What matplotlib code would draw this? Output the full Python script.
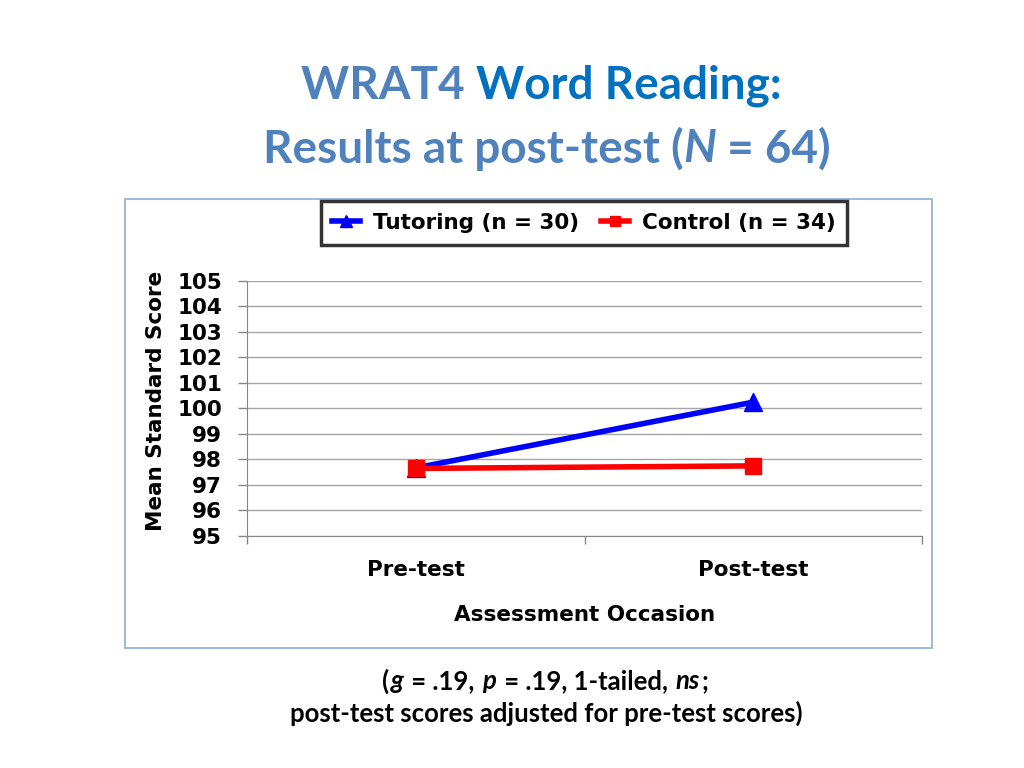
import matplotlib.pyplot as plt
from matplotlib.patches import Rectangle
from matplotlib.lines import Line2D

# data
occasions = ["Pre-test", "Post-test"]
tutoring = [97.67, 100.25]
control = [97.65, 97.75]
yticks = list(range(95, 106))

steel = "#4F81BD"
dark = "#0070C0"

fig = plt.figure(figsize=(10.24, 7.68), dpi=100)

# outer chart frame
fig.patches.append(Rectangle((125 / 1024, 1 - 648 / 768), 807 / 1024, 449 / 768,
                             transform=fig.transFigure, fill=False,
                             edgecolor="#95B3D7", linewidth=1.3))

ax = fig.add_axes([247 / 1024, 1 - 536 / 768, 675 / 1024, 255 / 768])
x = list(range(len(occasions)))
ax.plot(x, tutoring, color="#0000FF", linewidth=4, marker="^", markersize=13,
        zorder=3, clip_on=False)
ax.plot(x, control, color="#FF0000", linewidth=4, marker="s", markersize=11,
        zorder=4, clip_on=False)

lab = {"family": "DejaVu Sans", "weight": "bold", "size": 15.5}
ax.set_xlim(-0.5, 1.5)
ax.set_ylim(95, 105)
ax.set_yticks(yticks)
ax.set_yticklabels([str(v) for v in yticks], **lab)
ax.set_xticks(x)
ax.set_xticklabels(occasions, **lab)
ax.tick_params(axis="x", length=0, pad=17.5)
ax.set_xticks([-0.5, 0.5, 1.5], minor=True)
ax.tick_params(axis="x", which="minor", length=6, color="#868686", width=1)
ax.tick_params(axis="y", length=6.5, color="#868686", width=1, pad=11.5)
ax.grid(axis="y", color="#A6A6A6", linewidth=1)
ax.set_axisbelow(True)
for side in ["top", "right"]:
    ax.spines[side].set_visible(False)
for side in ["left", "bottom"]:
    ax.spines[side].set_color("#868686")

ax.set_xlabel("Assessment Occasion", labelpad=18, **lab)
ax.set_ylabel("Mean Standard Score", **lab)
ax.yaxis.set_label_coords(-0.12, 0.529)

handles = [Line2D([], [], color="#0000FF", linewidth=4, marker="^", markersize=8),
           Line2D([], [], color="#FF0000", linewidth=4, marker="s", markersize=7)]
leg = fig.legend(handles, ["Tutoring (n = 30)", "Control (n = 34)"],
                 loc="center", bbox_to_anchor=(584 / 1024, 1 - 223 / 768),
                 ncol=2, frameon=True, fancybox=False, handlelength=1.3,
                 columnspacing=1.0, handletextpad=0.6, borderpad=0.55,
                 borderaxespad=0, prop=lab)
leg.get_frame().set_edgecolor("black")
leg.get_frame().set_linewidth(2.5)

# title
tfont = {"family": "Lato", "weight": "bold", "size": 33}
t1 = fig.text(0.0, 1 - 86 / 768, "WRAT4 ", color=steel, va="center", **tfont)
t1b = fig.text(0.0, 1 - 86 / 768, "Word Reading:", color=dark, va="center", **tfont)
t2a = fig.text(0.0, 1 - 149 / 768, "Results at post-test (", color=steel, va="center", **tfont)
t2b = fig.text(0.0, 1 - 149 / 768, "N", color=steel, va="center", style="italic", **tfont)
t2c = fig.text(0.0, 1 - 149 / 768, " = 64)", color=steel, va="center", **tfont)

nfont = {"family": "Lato", "weight": "bold", "size": 18.5}
n1 = [("(", "normal"), ("g", "italic"), (" = .19, ", "normal"), ("p", "italic"),
      (" = .19, 1-tailed, ", "normal"), ("ns", "italic"), (";", "normal")]
n1_texts = [fig.text(0, 1 - 681 / 768, s, style=st, va="center", color="black", **nfont)
            for s, st in n1]
fig.text(546 / 1024, 1 - 713 / 768, "post-test scores adjusted for pre-test scores)",
         ha="center", va="center", color="black", **nfont)


def center_row(texts, cx, gap=0):
    fig.canvas.draw()
    r = fig.canvas.get_renderer()
    widths = [t.get_window_extent(r).width + gap for t in texts]
    start = cx * 1024 - sum(widths) / 2
    for t, w in zip(texts, widths):
        t.set_x(start / 1024)
        start += w


center_row([t1, t1b], 541 / 1024)
center_row([t2a, t2b, t2c], 547 / 1024)
center_row(n1_texts, 546 / 1024, gap=1.5)

fig.savefig("out.png", dpi=100)
